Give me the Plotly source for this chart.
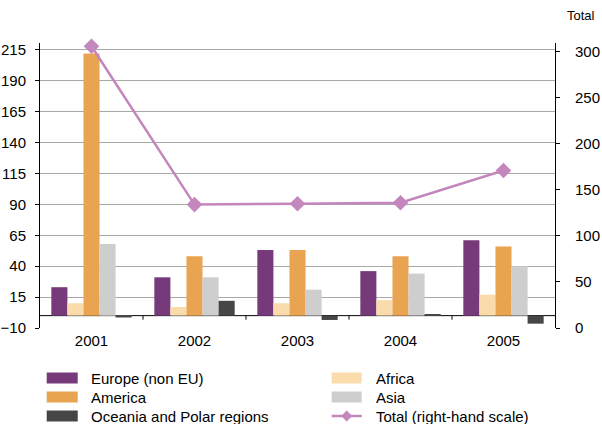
import plotly.graph_objects as go

# Chart data
years = ["2001", "2002", "2003", "2004", "2005"]
europe = [23, 31, 53, 36, 61]
africa = [10, 7, 10, 12.5, 17]
america = [212, 48, 53, 48, 56]
asia = [58, 31, 21, 34, 40]
oceania = [-1.5, 12, -3.5, 1.2, -6.5]
total = [306, 134, 135, 136, 171]

left_ticks = list(range(-10, 216, 25))
right_ticks = list(range(0, 301, 50))

FONT = "Liberation Sans, Arial, sans-serif"
FS = 15

series = [
    ("Europe (non EU)", europe, "#763a7a"),
    ("Africa", africa, "#fadcac"),
    ("America", america, "#e8a451"),
    ("Asia", asia, "#cdcecd"),
    ("Oceania and Polar regions", oceania, "#454645"),
]
TOTAL_NAME = "Total (right-hand scale)"
TOTAL_COLOR = "#c386bd"

fig = go.Figure()
for name, vals, col in series:
    fig.add_trace(go.Bar(x=years, y=vals, name=name, marker_color=col,
                         marker_line_width=0, xaxis="x", yaxis="y"))

fig.add_trace(go.Scatter(x=years, y=total, name=TOTAL_NAME, mode="lines+markers",
                         line=dict(color=TOTAL_COLOR, width=2.5),
                         marker=dict(symbol="diamond", size=12, color=TOTAL_COLOR),
                         xaxis="x", yaxis="y2", cliponaxis=False))

# plot-area geometry in pixels
W, H = 602, 424
PL, PR, PT, PB = 40, 555, 43, 328
YMIN, YMAX = -10, 220.5


def fx(px):
    return (px - PL) / (PR - PL)


def fy(py):
    return (PB - py) / (PB - PT)


fig.update_layout(
    width=W, height=H,
    margin=dict(l=PL, r=W - PR, t=PT, b=H - PB, pad=0, autoexpand=False),
    paper_bgcolor="white", plot_bgcolor="white",
    font=dict(family=FONT, size=FS, color="#000000"),
    barmode="group", bargap=0.22, bargroupgap=0,
    showlegend=False,
    xaxis=dict(type="category", range=[-0.5, 4.5], showline=False, ticks="",
               showgrid=False, zeroline=False, ticklabelstandoff=2,
               automargin=False),
    yaxis=dict(range=[YMIN, YMAX], tickvals=left_ticks, showline=True,
               linecolor="#000000", linewidth=1, ticks="outside", ticklen=4,
               tickcolor="#000000", showgrid=True, gridcolor="#a8a8a8",
               gridwidth=1, zeroline=False, ticklabelstandoff=6,
               automargin=False),
    yaxis2=dict(range=[0, 309.5], tickvals=right_ticks, overlaying="y",
                side="right", anchor="x", showline=True, linecolor="#000000",
                linewidth=1, ticks="outside", ticklen=4, tickcolor="#000000",
                showgrid=False, zeroline=False, ticklabelstandoff=12,
                automargin=False),
    yaxis3=dict(range=[0, 309.5], tickvals=right_ticks, overlaying="y",
                side="right", anchor="x", showline=False, ticks="inside",
                ticklen=3, tickcolor="#000000", showticklabels=False,
                showgrid=False, zeroline=False, automargin=False),
)

# category baseline at zero, under the bars
fig.add_shape(type="line", xref="paper", yref="y", x0=0, x1=1, y0=0, y1=0,
              line=dict(color="#000000", width=1), layer="below")

# short ticks hanging below the zero line between the year groups
for k in range(1, len(years)):
    fig.add_shape(type="line", xref="x", yref="y", x0=k - 0.5, x1=k - 0.5,
                  ysizemode="pixel", yanchor=0, y0=0, y1=-4,
                  line=dict(color="#000000", width=1))

# axis caption for the right-hand scale
fig.add_annotation(text="Total", xref="paper", yref="paper", x=fx(581), y=fy(16),
                   showarrow=False, font=dict(size=13), xanchor="center",
                   yanchor="middle")

# legend drawn by hand: wide swatches in two columns
legend_order = [series[0], series[1], series[2], series[3], series[4], None]
cols = [(46.7, 77.7, 89), (331.7, 361.7, 374)]
rows = [378, 397, 416]
for i, item in enumerate(legend_order):
    r, c = divmod(i, 2)
    x0, x1, tx = cols[c]
    yc = rows[r]
    if item is not None:
        name, _, col = item
        fig.add_shape(type="rect", xref="paper", yref="paper",
                      x0=fx(x0), x1=fx(x1), y0=fy(yc + 5.5), y1=fy(yc - 5.5),
                      fillcolor=col, line_width=0)
        label = name
    else:
        fig.add_shape(type="line", xref="paper", yref="paper",
                      x0=fx(x0), x1=fx(x1), y0=fy(yc), y1=fy(yc),
                      line=dict(color=TOTAL_COLOR, width=2.5))
        xm = (x0 + x1) / 2
        d = 5.5
        path = (f"M {fx(xm - d)},{fy(yc)} L {fx(xm)},{fy(yc - d)} "
                f"L {fx(xm + d)},{fy(yc)} L {fx(xm)},{fy(yc + d)} Z")
        fig.add_shape(type="path", xref="paper", yref="paper", path=path,
                      fillcolor=TOTAL_COLOR, line_width=0)
        label = TOTAL_NAME
    fig.add_annotation(text=label, xref="paper", yref="paper", x=fx(tx), y=fy(yc),
                       showarrow=False, xanchor="left", yanchor="middle",
                       font=dict(size=FS))

fig.write_html("out.html")
